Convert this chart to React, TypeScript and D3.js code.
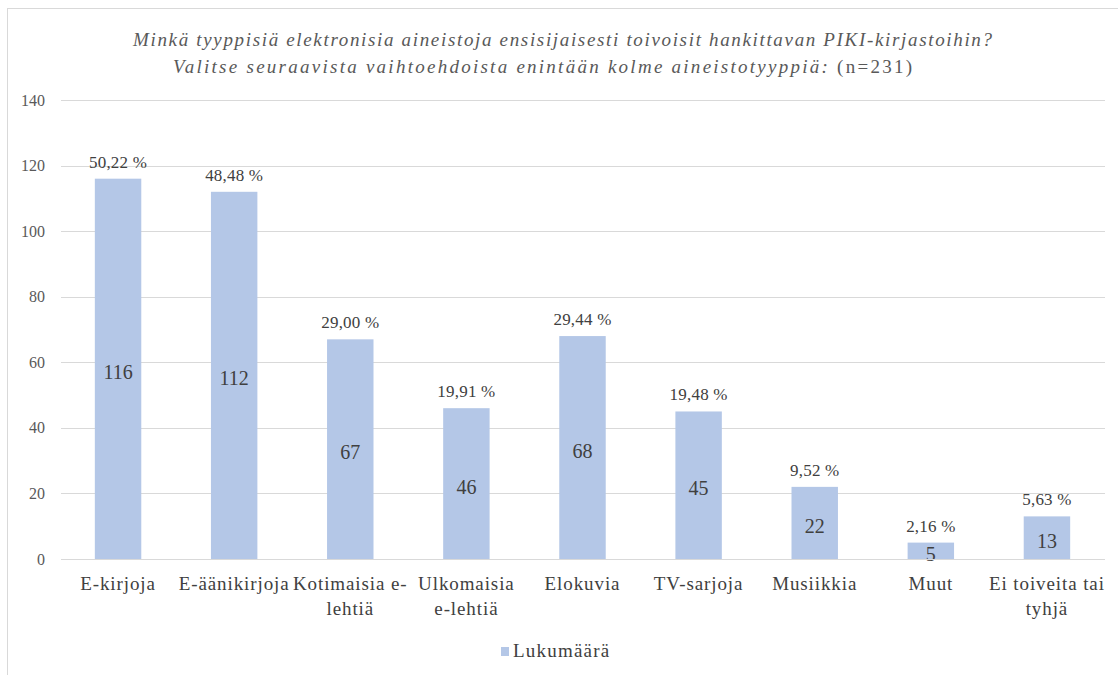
import React from "react";
import * as d3 from "d3";

const categories = [
  "E-kirjoja",
  "E-äänikirjoja",
  "Kotimaisia e-lehtiä",
  "Ulkomaisia e-lehtiä",
  "Elokuvia",
  "TV-sarjoja",
  "Musiikkia",
  "Muut",
  "Ei toiveita tai tyhjä",
];
const categoryLines = [
  ["E-kirjoja"],
  ["E-äänikirjoja"],
  ["Kotimaisia e-", "lehtiä"],
  ["Ulkomaisia", "e-lehtiä"],
  ["Elokuvia"],
  ["TV-sarjoja"],
  ["Musiikkia"],
  ["Muut"],
  ["Ei toiveita tai", "tyhjä"],
];
const counts = [116, 112, 67, 46, 68, 45, 22, 5, 13];
const percents = ["50,22 %", "48,48 %", "29,00 %", "19,91 %", "29,44 %", "19,48 %", "9,52 %", "2,16 %", "5,63 %"];
const yTicks = [0, 20, 40, 60, 80, 100, 120, 140];
const seriesName = "Lukumäärä";
const titleLine1 = "Minkä tyyppisiä elektronisia aineistoja ensisijaisesti toivoisit hankittavan PIKI-kirjastoihin?";
const titleLine2Italic = "Valitse seuraavista vaihtoehdoista enintään kolme aineistotyyppiä:";
const titleLine2Plain = " (n=231)";

const W = 1118;
const H = 675;
const FONT = "Liberation Serif, DejaVu Serif, Times New Roman, serif";
const BAR = "#B4C7E7";
const TXT = "#404040";
const TXT2 = "#595959";

export default function App() {
  const x = d3.scaleBand<string>().domain(categories).range([60, 1105]).paddingInner(0.6).paddingOuter(0.3);
  const y = d3.scaleLinear().domain([0, 140]).range([559, 100]);
  const ts = { fontFamily: FONT };

  return (
    <svg
      width={W}
      height={H}
      style={{ position: "absolute", left: 0, top: 0, background: "#fff", fontFamily: FONT }}
    >
      <rect x={7.5} y={8.5} width={W + 10} height={H + 10} fill="#fff" stroke="#D9D9D9" strokeWidth={1} />
      <text x={133} y={46} fontSize={19} fill={TXT2} fontStyle="italic" style={ts} textLength={859} lengthAdjust="spacing">
        {titleLine1}
      </text>
      <text x={173} y={73} fontSize={19} fill={TXT2} style={ts} textLength={739} lengthAdjust="spacing">
        <tspan fontStyle="italic">{titleLine2Italic}</tspan>
        <tspan>{titleLine2Plain}</tspan>
      </text>
      {yTicks.map((t) => (
        <g key={t}>
          <line x1={61} x2={1105} y1={Math.round(y(t)) + 0.5} y2={Math.round(y(t)) + 0.5} stroke="#D9D9D9" strokeWidth={1} />
          <text x={45} y={y(t)} dy="0.35em" textAnchor="end" fontSize={16} fill={TXT2} style={ts}>
            {t}
          </text>
        </g>
      ))}
      {categories.map((c, i) => {
        const bx = x(c)!;
        const bw = x.bandwidth();
        const top = y(counts[i]);
        const cx = bx + bw / 2;
        return (
          <g key={c}>
            <rect x={bx} y={top} width={bw} height={y(0) - top} fill={BAR} />
            <text x={cx} y={(top + y(0)) / 2 + 3} dy="0.35em" textAnchor="middle" fontSize={20} fill={TXT} style={ts}>
              {counts[i]}
            </text>
            <text x={cx} y={top - 11} textAnchor="middle" fontSize={17} fill={TXT} letterSpacing={0.2} style={ts}>
              {percents[i]}
            </text>
            {categoryLines[i].map((ln, j) => (
              <text key={j} x={cx} y={590 + j * 25} textAnchor="middle" fontSize={19} fill={TXT} letterSpacing={0.9} style={ts}>
                {ln}
              </text>
            ))}
          </g>
        );
      })}
      <line x1={61} x2={1105} y1={559.5} y2={559.5} stroke="#D9D9D9" strokeWidth={1} />
      <rect x={501} y={647} width={8} height={9} fill={BAR} />
      <text x={513} y={657} fontSize={19} fill={TXT} letterSpacing={1.2} style={ts}>
        {seriesName}
      </text>
    </svg>
  );
}
